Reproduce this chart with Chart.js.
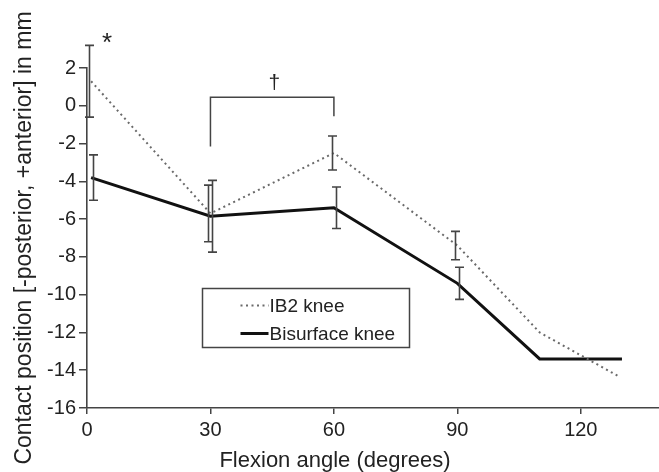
<!DOCTYPE html>
<html>
<head>
<meta charset="utf-8">
<script src="https://cdn.jsdelivr.net/npm/chart.js@4.4.0/dist/chart.umd.min.js"></script>
<style>
html, body { margin: 0; padding: 0; background: #fff; }
#wrap { width: 659px; height: 472px; position: relative; }
</style>
</head>
<body>
<div id="wrap"><canvas id="chart"></canvas></div>
<script>
// flexion angle (degrees) and contact position (mm)
const bisurfaceAngles = [1, 30, 60, 90, 110, 130];
const bisurfaceValues = [-3.8, -5.85, -5.4, -9.4, -13.4, -13.4];
const bisurfaceErrors = [1.2, 1.9, 1.1, 0.85, null, null];

const ib2Angles = [1, 30, 60, 90, 110, 129];
const ib2Values = [1.3, -5.7, -2.5, -7.4, -12.0, -14.3];
const ib2Errors = [1.9, 1.5, 0.9, 0.75, null, null];

const xTickValues = [0, 30, 60, 90, 120];
const seriesLabels = ["IB2 knee", "Bisurface knee"];

// significance marks: bracket between 30 and 60 degrees, dagger above, asterisk at 0
const bracketSpan = [30, 60];
const bracketTop = 0.45;
const bracketLegs = [-2.15, -0.55];
const marks = [
    { text: "*", x: 4.9, y: 3.3, size: 26 },
    { text: "\u2020", x: 45.5, y: 1.2, size: 21 }
];

const FONT = "'Liberation Sans', Arial, Helvetica, sans-serif";
const INK = "#222";
const AXIS = "#444";

function toPoints(xs, ys) {
    return xs.map((x, i) => ({ x: x, y: ys[i] }));
}

const errorBars = {
    id: "errorBars",
    afterDatasetsDraw(chart) {
        const ctx = chart.ctx;
        const xs = chart.scales.x;
        const ys = chart.scales.y;
        const sets = [
            { angles: ib2Angles, values: ib2Values, errs: ib2Errors, shift: -2 },
            { angles: bisurfaceAngles, values: bisurfaceValues, errs: bisurfaceErrors, shift: 2 }
        ];
        ctx.save();
        ctx.strokeStyle = AXIS;
        ctx.lineWidth = 1.6;
        sets.forEach((s) => {
            s.errs.forEach((e, i) => {
                if (e === null) return;
                const px = Math.round(xs.getPixelForValue(s.angles[i])) + s.shift + 0.5;
                const top = ys.getPixelForValue(s.values[i] + e);
                const bot = ys.getPixelForValue(s.values[i] - e);
                ctx.beginPath();
                ctx.moveTo(px, top);
                ctx.lineTo(px, bot);
                ctx.moveTo(px - 4.5, top);
                ctx.lineTo(px + 4.5, top);
                ctx.moveTo(px - 4.5, bot);
                ctx.lineTo(px + 4.5, bot);
                ctx.stroke();
            });
        });

        // bracket
        const bl = xs.getPixelForValue(bracketSpan[0]);
        const br = xs.getPixelForValue(bracketSpan[1]);
        const bt = ys.getPixelForValue(bracketTop);
        ctx.lineWidth = 1.5;
        ctx.beginPath();
        ctx.moveTo(bl, ys.getPixelForValue(bracketLegs[0]));
        ctx.lineTo(bl, bt);
        ctx.lineTo(br, bt);
        ctx.lineTo(br, ys.getPixelForValue(bracketLegs[1]));
        ctx.stroke();

        ctx.fillStyle = INK;
        ctx.textAlign = "center";
        ctx.textBaseline = "middle";
        marks.forEach((m) => {
            ctx.font = m.size + "px " + FONT;
            ctx.fillText(m.text, xs.getPixelForValue(m.x), ys.getPixelForValue(m.y));
        });
        ctx.restore();
    }
};

const legendBox = {
    id: "legendBox",
    afterDraw(chart) {
        const ctx = chart.ctx;
        const ca = chart.chartArea;
        const left = ca.left + 115.5;
        const top = ca.top + 220.5;
        const w = 207;
        const h = 59;
        ctx.save();
        ctx.fillStyle = "#fff";
        ctx.fillRect(left, top, w, h);
        ctx.strokeStyle = AXIS;
        ctx.lineWidth = 1.5;
        ctx.strokeRect(left, top, w, h);

        ctx.font = "19px " + FONT;
        ctx.textAlign = "left";
        ctx.textBaseline = "middle";
        chart.data.datasets.forEach((ds, i) => {
            const cy = top + 17 + i * 28;
            ctx.strokeStyle = ds.borderColor;
            ctx.lineWidth = ds.borderWidth;
            ctx.setLineDash(ds.borderDash || []);
            ctx.beginPath();
            ctx.moveTo(left + 38, cy);
            ctx.lineTo(left + 66, cy);
            ctx.stroke();
            ctx.setLineDash([]);
            ctx.fillStyle = INK;
            ctx.fillText(ds.label, left + 67, cy + 1);
        });

        // x axis title
        ctx.font = "22px " + FONT;
        ctx.textAlign = "center";
        ctx.fillText("Flexion angle (degrees)", 335, 461);
        ctx.restore();
    }
};

new Chart(document.getElementById("chart"), {
    type: "line",
    data: {
        datasets: [
            {
                label: seriesLabels[0],
                data: toPoints(ib2Angles, ib2Values),
                borderColor: "#6a6a6a",
                borderWidth: 2,
                borderDash: [2, 3.5],
                pointRadius: 0,
                tension: 0,
                clip: false
            },
            {
                label: seriesLabels[1],
                data: toPoints(bisurfaceAngles, bisurfaceValues),
                borderColor: "#111",
                borderWidth: 3,
                pointRadius: 0,
                tension: 0,
                clip: false
            }
        ]
    },
    options: {
        responsive: true,
        maintainAspectRatio: false,
        animation: false,
        devicePixelRatio: 1,
        layout: { padding: { top: 68, right: 0, left: 0, bottom: 0 } },
        plugins: {
            legend: { display: false },
            tooltip: { enabled: false }
        },
        scales: {
            x: {
                type: "linear",
                min: 0,
                max: 139,
                afterBuildTicks: (scale) => {
                    scale.ticks = xTickValues.map((v) => ({ value: v }));
                },
                afterFit: (scale) => { scale.height = 64; },
                border: { display: true, color: AXIS, width: 1.6 },
                grid: { display: true, drawOnChartArea: false, drawTicks: true, tickLength: 6, color: AXIS, lineWidth: 1.5 },
                ticks: { color: INK, font: { family: FONT, size: 20 }, padding: 4, maxRotation: 0 }
            },
            y: {
                min: -16,
                max: 2,
                ticks: { stepSize: 2, color: INK, font: { family: FONT, size: 20 }, padding: 3 },
                afterFit: (scale) => { scale.width = 87; },
                border: { display: true, color: AXIS, width: 1.6 },
                grid: { display: true, drawOnChartArea: false, drawTicks: true, tickLength: 8, color: AXIS, lineWidth: 1.5 },
                title: {
                    display: true,
                    text: "Contact position [-posterior, +anterior] in mm",
                    color: INK,
                    font: { family: FONT, size: 23 },
                    padding: { top: 11, bottom: 0 }
                }
            }
        }
    },
    plugins: [errorBars, legendBox]
});
</script>
</body>
</html>
